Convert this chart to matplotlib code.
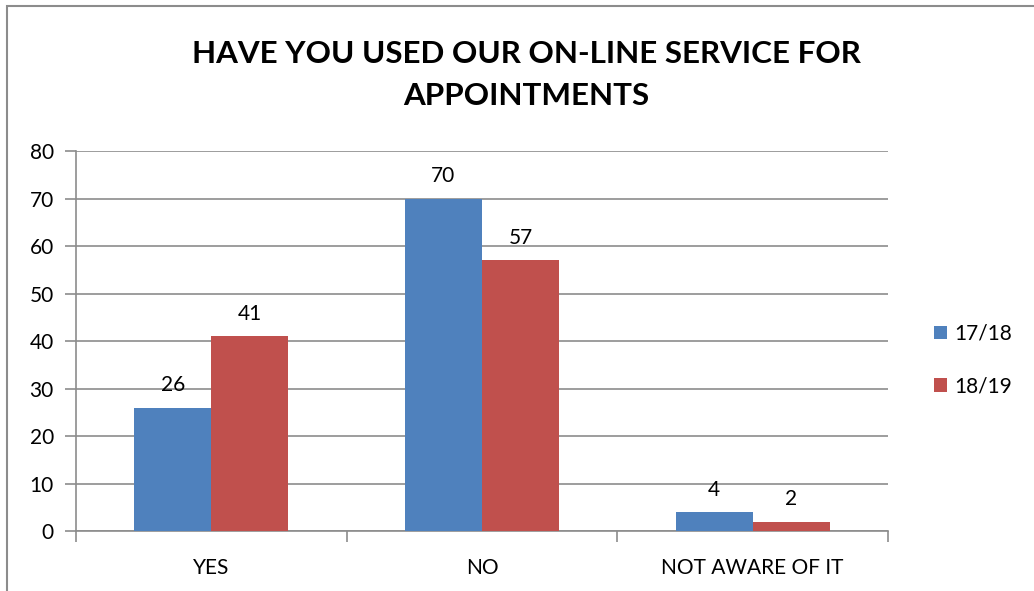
import numpy as np
import matplotlib.pyplot as plt
from matplotlib.patches import Rectangle

categories = ['YES', 'NO', 'NOT AWARE OF IT']
series_names = ['17/18', '18/19']
values_1718 = [26, 70, 4]
values_1819 = [41, 57, 2]
colors = ['#4F81BD', '#C0504D']

plt.rcParams['font.family'] = ['Lato', 'DejaVu Sans']

W, H = 1034, 591
fig = plt.figure(figsize=(W / 100, H / 100), dpi=100)

# chart border (runs off right/bottom edge)
fig.patches.append(Rectangle((7 / W, -0.05), 1.1, 1 - 6 / H + 0.05,
                             transform=fig.transFigure, fill=False,
                             edgecolor='#8c8c8c', linewidth=1.5))

ax = fig.add_axes([76 / W, 1 - 531 / H, (888 - 76) / W, (531 - 151) / H])

x = np.arange(len(categories))
bw = 0.285
b1 = ax.bar(x - bw / 2, values_1718, bw, color=colors[0], label=series_names[0], zorder=3)
b2 = ax.bar(x + bw / 2, values_1819, bw, color=colors[1], label=series_names[1], zorder=3)

fs = 15
for bars in (b1, b2):
    for rect in bars:
        ax.text(rect.get_x() + rect.get_width() / 2, rect.get_height() + 2.6,
                f'{rect.get_height():g}', ha='center', va='bottom', fontsize=fs)

ax.set_xlim(-0.5, 2.5)
ax.set_ylim(0, 80)
ax.set_yticks(range(0, 81, 10))
ax.yaxis.grid(True, color='#8c8c8c', linewidth=1.2, zorder=0)
ax.set_xticks([])
ax.tick_params(axis='y', length=8, width=1.2, color='#8c8c8c', labelsize=fs, pad=8)
for s in ['top', 'right']:
    ax.spines[s].set_visible(False)
for s in ['left', 'bottom']:
    ax.spines[s].set_color('#8c8c8c')
    ax.spines[s].set_linewidth(1.2)

# category separators and labels
ax.set_xticks([-0.5, 0.5, 1.5, 2.5], minor=True)
ax.tick_params(axis='x', which='minor', length=8, width=1.2, color='#8c8c8c')
for i, c in enumerate(categories):
    ax.text(i, -5.6, c, ha='center', va='top', fontsize=fs)

fig.text(526 / W, 1 - 75 / H, 'HAVE YOU USED OUR ON-LINE SERVICE FOR\nAPPOINTMENTS',
         ha='center', va='center', fontsize=22.6, fontweight='bold', linespacing=1.62)

ax.legend(loc='center left', bbox_to_anchor=(915 / W, 1 - 360 / H),
          bbox_transform=fig.transFigure, frameon=False, fontsize=fs,
          handlelength=0.65, handleheight=0.65, handletextpad=0.35, labelspacing=1.55)

fig.savefig('out.png', dpi=100)
